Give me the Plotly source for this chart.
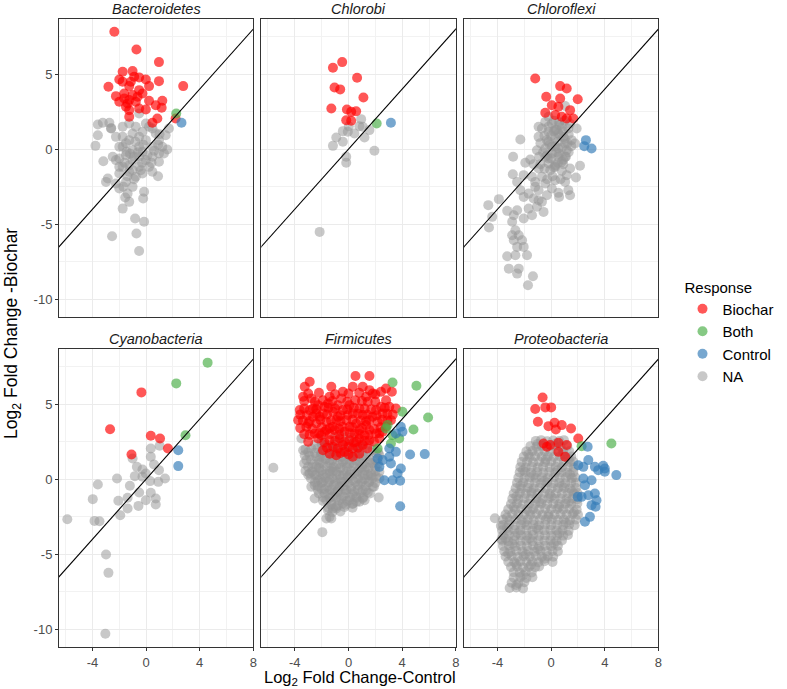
import plotly.graph_objects as go

# ---------------- data ----------------
PHYLA = ["Bacteroidetes", "Chlorobi", "Chloroflexi",
         "Cyanobacteria", "Firmicutes", "Proteobacteria"]
RESPONSES = ["Biochar", "Both", "Control", "NA"]
X_TICKS = [-4, 0, 4, 8]
X_TICK_TEXT = ["-4", "0", "4", "8"]
Y_TICKS = [-10, -5, 0, 5]
Y_TICK_TEXT = ["-10", "-5", "0", "5"]
ABLINE_X = [-8, 10]          # reference line y = x

BACT_BIOCHAR = [(-2.37,7.82),(-0.72,6.64),(0.96,5.8),(2.77,4.2),(-2.81,4.16),(-1.75,5.16),(-1.01,5.2),
    (-2.0,4.64),(-0.52,4.78),(-0.02,4.64),(0.96,4.53),(0.22,4.2),(-1.26,4.2),(-0.52,3.93),(-2.25,3.53),
    (-1.63,3.38),(-1.01,3.6),(-0.27,3.71),(-2.0,3.16),(-1.38,3.04),(-0.77,3.16),(0.22,3.22),(1.21,3.22),
    (0.72,2.93),(-1.26,2.6),(-0.52,2.71),(-0.02,2.64),(1.16,2.76),(-1.26,2.16),(0.84,2.04),(0.47,1.76),
    (2.2,2.04),(-1.75,4.49),(-1.14,4.49),(-0.89,4.82),(-1.63,3.71),(-0.64,3.49),(-1.26,3.27),(-1.5,2.82)]
BACT_BOTH = [(2.25,2.38)]
BACT_CONTROL = [(2.64,1.76)]
BACT_NA = [(-3.6,1.64),(-3.23,1.76),(-2.74,1.76),(-3.6,0.93),(-3.78,0.22),(-2.62,1.38),(-2.25,0.82),
    (-1.75,1.49),(-1.26,1.71),(-0.52,2.38),(-0.77,1.49),(-0.02,1.71),(0.47,1.38),(1.7,1.38),(1.46,0.93),
    (0.96,0.6),(1.21,0.16),(1.58,-0.02),(-1.75,0.82),(-1.26,0.6),(-0.52,0.82),(-0.02,0.6),(-1.75,0.16),
    (-1.01,-0.07),(-0.52,0.16),(0.47,0.16),(0.96,-0.29),(-2.49,-0.51),(-2.0,-0.62),(-1.5,-0.4),
    (-1.01,-0.73),(-0.52,-0.51),(-0.02,-0.73),(0.47,-0.51),(0.96,-0.84),(-3.19,-0.8),(-1.75,-1.18),
    (-1.26,-1.07),(-0.52,-1.18),(0.22,-1.18),(-2.0,-1.62),(-1.26,-1.51),(-0.77,-1.84),(0.47,-1.51),
    (0.89,-1.8),(-2.86,-1.96),(-2.99,-2.18),(-2.25,-2.29),(-1.5,-2.18),(-1.01,-2.51),(-2.0,-2.62),
    (-1.38,-2.96),(-0.15,-2.84),(-0.22,-3.29),(-1.56,-3.22),(-1.26,-3.51),(-1.75,-3.96),(-0.82,-4.62),
    (-0.15,-4.84),(-0.72,-5.62),(-2.54,-5.8),(-0.52,-6.78),(0.22,1.49),(0.72,1.04),(-0.27,1.16),
    (-1.01,1.04),(-2.0,0.16),(-2.25,-0.73),(-0.27,-0.18),(-1.45,-0.18),(-2.0,-1.18),(-0.27,-1.62),
    (1.33,-0.29),(-1.5,0.4),(-0.8,0.5),(-0.2,0.3),(0.6,-0.1),(-1.2,-0.3),(-0.6,-0.2),(0.1,-0.4),
    (-1.6,-0.9),(-0.9,-0.5),(-0.3,-0.9),(0.4,-0.9),(-1.0,-1.4),(-0.4,-1.4),(-1.4,-1.8),(-0.9,-2.0),
    (-1.7,-2.5),(0.9,0.3),(1.0,1.0),(-2.6,1.4)]

CHLB_BIOCHAR = [(-1.16,5.42),(-0.47,5.8),(0.64,4.76),(-1.04,4.11),(-0.62,3.98),(1.11,3.44),(-1.28,2.71),
    (-0.12,2.64),(0.2,2.49),(0.57,2.53),(-0.17,1.93),(0.2,1.89)]
CHLB_BOTH = [(2.1,1.71)]
CHLB_CONTROL = [(3.16,1.76)]
CHLB_NA = [(0.94,2.0),(0.02,1.53),(-0.42,1.2),(0.81,1.53),(1.56,1.27),(0.44,1.04),(-0.91,0.78),
    (-0.42,0.49),(-1.16,0.22),(1.19,0.78),(1.93,-0.11),(-0.17,-0.51),(-0.17,-0.91),(-2.15,-5.51),
    (1.06,1.49),(-0.05,1.16)]

CHLF_BIOCHAR = [(-1.19,4.71),(0.67,4.2),(1.16,4.04),(-0.37,3.49),(0.67,3.38),(1.98,3.33),(0.05,2.93),
    (-0.44,2.42),(0.3,2.27),(0.79,2.16),(1.41,2.6),(1.65,2.04),(1.16,2.04),(0.54,2.82)]
CHLF_BOTH = []
CHLF_CONTROL = [(2.59,0.6),(2.47,0.2),(3.01,0.04)]
CHLF_NA = [(1.04,2.87),(-0.44,1.82),(0.05,1.71),(-0.69,1.38),(-0.2,1.16),(0.3,1.27),(0.79,1.49),
    (1.28,1.38),(1.9,1.38),(-2.3,0.64),(-0.94,0.82),(-0.32,0.6),(0.3,0.71),(0.91,0.82),(1.53,0.6),
    (1.78,0.38),(-1.06,-0.07),(-0.44,0.04),(0.05,0.16),(0.54,0.04),(1.16,-0.07),(0.05,-0.29),
    (-0.44,-0.51),(0.54,-0.51),(1.04,-0.51),(-2.84,-0.51),(-1.56,-0.69),(-1.93,-0.91),(-1.31,-1.0),
    (-0.2,-0.96),(0.3,-1.07),(0.79,-0.84),(2.15,-1.11),(-0.94,-1.29),(-0.07,-1.4),(0.79,-1.44),
    (1.41,-1.29),(-2.86,-1.67),(-2.05,-1.73),(-1.43,-1.84),(-0.69,-1.84),(1.16,-1.73),(1.85,-1.89),
    (-2.54,-2.18),(-1.19,-2.18),(-0.44,-2.29),(0.3,-2.07),(1.04,-2.18),(-2.3,-2.73),(-1.68,-2.96),
    (-0.94,-2.73),(0.05,-2.62),(0.54,-2.91),(1.28,-2.73),(1.41,-3.07),(-3.9,-3.33),(-2.05,-3.18),
    (-1.31,-3.29),(-0.69,-3.51),(-0.32,-3.07),(0.59,-3.18),(-4.69,-3.73),(-3.28,-4.11),(-2.54,-4.07),
    (-1.68,-3.96),(-1.06,-3.84),(-0.57,-4.18),(-4.4,-4.51),(-4.64,-5.22),(-2.79,-4.4),(-2.05,-4.62),
    (-1.43,-4.4),(-2.91,-4.84),(-2.67,-5.4),(-2.42,-5.73),(-2.79,-6.07),(-2.54,-6.51),(-2.05,-6.51),
    (-3.28,-7.13),(-2.67,-7.07),(-1.8,-7.07),(-3.16,-7.96),(-2.42,-7.96),(-2.54,-8.29),(-1.36,-8.47),
    (-1.73,-9.07),(-0.2,2.16),(-0.94,1.49),(0.54,1.04),(1.04,0.38),(-0.2,-0.62),(0.3,-1.18),
    (-1.19,-2.51),(-0.94,-3.4),(-2.91,-5.73),(-2.17,-6.07),
    (0.2,1.9),(0.6,1.8),(1.0,1.9),(1.4,1.7),(-0.2,1.5),(0.4,1.3),(0.9,1.2),(1.3,1.0),(-0.5,0.9),
    (0.0,0.9),(0.5,0.5),(1.0,0.7),(1.5,0.2),(-0.8,0.4),(-0.2,0.5),(0.3,0.2),(0.8,0.1),(1.3,-0.2),
    (-0.6,-0.2),(0.0,-0.6),(0.6,-0.3),(1.1,-0.5),(-0.9,-0.5),(0.5,-0.9),(-0.5,-1.3),(0.9,-1.0),
    (0.1,-1.8),(0.7,-2.0),(-0.3,-2.0),(0.2,1.2),(0.7,0.9),(-0.1,0.3),(0.4,-0.2),(0.9,-0.7),
    (-0.3,-0.4),(0.2,-1.2),(-0.8,-1.0),(1.2,0.4),(0.6,1.6)]

CYAN_BIOCHAR = [(-0.35,5.78),(-2.69,3.33),(0.35,2.89),(1.04,2.71),(1.63,2.04),(-1.09,1.64)]
CYAN_BOTH = [(4.59,7.76),(2.25,6.38),(2.94,2.93)]
CYAN_CONTROL = [(2.4,1.93),(2.4,0.87)]
CYAN_NA = [(0.35,2.04),(1.01,2.22),(-1.01,1.38),(0.35,1.49),(0.59,0.98),(-0.69,0.82),(-0.27,0.64),
    (0.96,0.6),(-0.02,0.38),(-0.84,0.2),(-0.27,0.16),(-2.17,0.04),(1.41,0.04),(0.3,-0.13),(0.91,-0.18),
    (-3.6,-0.36),(-1.21,-0.44),(-0.52,-0.89),(0.35,-0.91),(-3.98,-1.33),(-2.07,-1.44),(-1.38,-1.24),
    (-0.02,-1.4),(0.72,-1.29),(0.72,-1.69),(-0.57,-1.78),(-1.38,-1.96),(-1.93,-2.4),(-5.88,-2.67),
    (-3.85,-2.78),(-3.48,-2.8),(-2.99,-5.02),(-2.81,-6.24),(-3.04,-10.3)]

FIRM_BIOCHAR = [(0.52,6.87),(1.56,6.87),(-2.89,6.49),(-1.28,6.16),(0.32,6.16),(1.06,6.16),(-3.26,6.16),
    (-3.38,5.49),(-2.77,5.38),(-0.42,5.82),(1.56,5.93),(2.42,5.82),(2.79,6.04),(3.23,5.82),(-0.54,5.38),
    (1.31,5.49),(1.8,5.71),(-3.63,4.6),(-2.89,4.6),(-2.27,4.93),(-1.53,5.04),(-0.79,4.93),(0.07,4.93),
    (0.81,4.71),(1.43,5.16),(2.42,4.82),(3.04,4.82),(3.53,4.71),(-3.75,3.93),(-2.64,4.16),(-1.9,4.38),
    (-1.16,4.49),(-0.42,4.6),(0.32,4.38),(1.06,4.27),(1.8,4.16),(2.54,4.38),(3.16,3.93),(-3.14,3.49),
    (-2.4,3.71),(-1.65,3.82),(-0.91,3.93),(-0.17,3.93),(0.57,3.71),(1.31,3.6),(2.17,3.82),(2.79,3.49),
    (-2.52,3.04),(-1.78,3.16),(-1.04,3.27),(-0.3,3.16),(0.44,3.04),(1.19,2.93),(2.05,3.04),(-2.27,2.71),
    (-1.41,2.6),(-0.67,2.71),(0.07,2.6),(0.81,2.71),(1.56,2.6),(2.3,2.71),(-1.16,2.16),(-0.42,2.27),
    (0.32,2.04),(1.06,2.27),(-0.91,1.6),(0.32,1.49),(-0.3,1.82),(-1.9,1.93),(-3.01,3.71),(-1.41,5.49),
    (-2.15,4.16),(0.81,3.27),(1.56,3.27),(-1.16,3.49),(-0.42,3.49),(0.07,3.49),(-1.65,3.27),(-2.64,4.71),
    (-1.78,4.82),(2.05,4.6),(-0.79,4.16),(-0.05,4.27),(1.56,3.93),(-2.03,2.93),(2.54,3.16),(0.57,2.49),
    (-3.0,5.7),(-2.2,5.75),(-1.0,5.65),(0.0,5.7),(0.8,5.75),(2.0,5.65),
    (-3.3,5.2),(-2.5,5.15),(-1.9,5.25),(-1.2,5.2),(-0.1,5.15),(0.5,5.25),(1.0,5.2),(2.0,5.15),(2.8,5.25),
    (-3.3,4.7),(-2.4,4.65),(-1.5,4.75),(-1.0,4.7),(-0.1,4.65),(0.4,4.75),(1.2,4.7),(1.7,4.65),(2.7,4.75),
    (-3.6,4.3),(-3.1,4.25),(-2.4,4.35),(-1.6,4.3),(-0.6,4.25),(0.7,4.35),(1.4,4.3),(2.1,4.25),(2.9,4.35),
    (3.3,4.3),(-3.4,3.9),(-2.9,3.85),(-2.1,3.95),(-1.3,3.9),(-0.6,3.85),(0.3,3.95),(0.9,3.9),(1.3,3.85),
    (2.5,3.95),(2.9,3.9),(-3.6,3.4),(-2.7,3.35),(-2.0,3.45),(-1.4,3.4),(-0.7,3.35),(0.3,3.45),(1.0,3.4),
    (1.9,3.35),(2.4,3.45),(-3.3,3.0),(-2.9,2.95),(-2.2,3.05),(-1.4,3.0),(-0.7,2.95),(0.1,3.05),(0.8,3.0),
    (1.5,2.95),(2.3,3.05),(-3.0,2.5),(-1.8,2.45),(-1.0,2.55),(-0.3,2.5),(0.4,2.45),(1.2,2.55),(1.9,2.5),
    (-1.6,2.1),(-0.8,2.05),(0.0,2.15),(0.7,2.1),(1.4,2.05),(-1.4,1.7),(-0.6,1.75),(0.0,1.65),(0.8,1.7)]
FIRM_BOTH = [(3.28,6.44),(5.06,6.22),(4.02,4.49),(5.93,4.11),(4.84,3.31),(2.79,3.38),(3.28,2.93),
    (3.78,2.71),(3.16,2.38),(2.17,2.04),(2.91,3.6)]
FIRM_CONTROL = [(3.9,3.49),(4.02,3.16),(3.53,3.04),(3.04,2.04),(3.53,1.82),(3.04,1.49),(4.59,1.64),
    (5.68,1.67),(2.54,1.27),(2.3,0.82),(3.9,0.71),(3.65,0.38),(3.28,-0.07),(2.67,-0.07),(3.85,-0.11),
    (3.85,-1.8),(3.16,1.04),(2.17,1.38)]
FIRM_NA = [(-5.6,0.76),(-3.51,2.71),(-3.38,1.93),(-3.26,1.6),(-3.01,0.82),(-2.52,0.27),(-2.52,-0.4),
    (-2.52,-1.29),(-2.03,-0.62),(-1.65,-1.4),(-1.16,-1.96),(-1.41,-2.51),(-1.65,-2.62),(-1.95,-3.53),
    (-0.91,-1.84),(0.07,-1.4),(0.81,-1.51),(1.43,-0.89),(2.25,-1.22),(-2.77,2.04),(-2.4,1.49),(-1.78,2.27),
    (-1.41,1.71),(-1.04,2.04),(-0.67,1.71),(-0.17,1.82),(0.44,1.71),(1.06,1.6),(1.56,1.82),(1.8,1.04),
    (2.05,1.71),(-1.9,1.04),(-1.41,1.27),(-0.91,0.93),(-0.42,1.16),(0.07,1.04),(0.81,1.16),(1.31,0.82),
    (-2.15,0.49),(-1.65,0.38),(-1.16,0.49),(-0.67,0.27),(-0.17,0.49),(0.44,0.38),(1.06,0.27),(1.68,0.38),
    (-1.9,-0.18),(-1.41,-0.07),(-0.91,-0.29),(-0.3,-0.18),(0.32,-0.07),(0.89,-0.29),(1.56,-0.18),
    (2.05,0.16),(-1.41,-0.73),(-0.79,-0.84),(-0.17,-0.73),(0.44,-0.84),(1.06,-0.73),(-1.78,-0.96),
    (-0.54,-1.29),(-1.16,-1.18),(0.57,-1.18),(-0.42,-1.62),(0.32,-1.62),(-1.28,-2.62),(-3.14,1.27),
    (-2.89,0.38),(-2.27,-0.07),(-0.79,1.49),(0.19,1.49),(0.81,0.71),(-0.05,0.16),(-0.67,-0.51),
    (-1.28,0.71),(-2.4,0.82),(-2.03,1.71),(1.43,0.27),(1.06,-1.29),(1.8,-0.51),(2.3,0.49),(-2.77,-0.51),
    (-1.53,-2.07),
    (-2.5,2.3),(-2.0,2.35),(-1.5,2.25),(-1.0,2.3),(-0.5,2.4),(0.0,2.3),(0.5,2.25),(1.0,2.35),(1.5,2.3),
    (-3.0,1.8),(-2.5,1.75),(-2.0,1.85),(-1.0,1.8),(0.0,1.75),(1.0,1.85),(2.2,1.8),
    (-2.8,1.3),(-2.2,1.25),(-1.7,1.35),(-1.2,1.3),(-0.3,1.3),(0.5,1.25),(1.0,1.35),(1.6,1.3),(2.0,1.25),
    (-2.7,0.8),(-2.2,0.75),(-1.6,0.85),(-1.1,0.8),(-0.6,0.75),(-0.1,0.8),(0.4,0.85),(1.0,0.8),(1.5,0.75),
    (2.0,0.8),(-3.0,0.3),(-2.4,0.25),(-1.9,0.3),(-1.4,0.35),(-0.9,0.3),(-0.4,0.25),(0.1,0.3),(0.6,0.35),
    (1.2,0.3),(1.7,0.25),(-2.5,-0.2),(-2.0,-0.25),(-1.5,-0.2),(-1.0,-0.15),(-0.5,-0.2),(0.0,-0.25),
    (0.5,-0.2),(1.0,-0.15),(1.5,-0.2),(2.0,-0.25),(-2.3,-0.7),(-1.8,-0.65),(-1.3,-0.7),(-0.8,-0.75),
    (-0.3,-0.7),(0.2,-0.65),(0.7,-0.7),(1.3,-0.75),(-1.9,-1.2),(-1.4,-1.25),(-0.9,-1.2),(-0.4,-1.15),
    (0.1,-1.2),(0.6,-1.25),(1.1,-1.2),(-1.3,-1.7),(-0.8,-1.75),(-0.2,-1.7),(0.3,-1.65),(-1.2,-2.2),
    (-0.6,-2.15),
    (-3.2,2.0),(-2.3,2.05),(-1.3,1.95),(-0.3,2.0),(0.7,2.05),(1.8,1.95),
    (-2.9,1.55),(-2.1,1.5),(-1.6,1.6),(-1.1,1.55),(-0.5,1.5),(0.1,1.6),(0.7,1.55),(1.3,1.5),(2.3,1.6),
    (-3.3,1.05),(-2.6,1.0),(-2.1,1.1),(-1.4,1.05),(-0.7,1.0),(-0.2,1.1),(0.4,1.05),(1.1,1.0),(1.6,1.1),
    (2.2,1.05),(-3.2,0.55),(-2.7,0.5),(-2.0,0.6),(-1.4,0.55),(-0.9,0.5),(-0.4,0.6),(0.2,0.55),(0.7,0.5),
    (1.2,0.6),(2.0,0.55),(-2.8,0.05),(-2.1,0.0),(-1.7,0.1),(-1.2,0.05),(-0.6,0.0),(0.0,0.1),(0.7,0.05),
    (1.2,0.0),(1.8,0.1),(2.3,0.05),(-2.3,-0.45),(-1.6,-0.5),(-1.1,-0.4),(-0.4,-0.45),(0.2,-0.5),
    (0.7,-0.4),(1.3,-0.45),(1.9,-0.5),(-2.2,-0.95),(-1.5,-1.0),(-1.0,-0.9),(-0.2,-0.95),(0.3,-1.0),
    (0.9,-0.9),(1.6,-0.95),(-1.9,-1.45),(-1.3,-1.5),(-0.7,-1.4),(-0.1,-1.45),(0.6,-1.5),(1.2,-1.4),
    (-1.5,-1.9),(-0.9,-1.95),(-0.3,-1.85),(0.3,-1.9),
    (-1.0,2.8),(-0.4,2.9),(0.2,2.75),(-2.0,2.6),(0.9,2.2)]

PROT_BIOCHAR = [(-0.64,5.44),(-1.19,4.67),(-0.44,4.78),(0.0,4.78),(-0.99,3.82),(-0.2,3.53),(0.25,3.76),
    (0.79,3.6),(1.48,3.38),(0.35,3.31),(-0.57,2.38),(-0.07,2.27),(0.54,2.42),(1.16,2.27),(2.02,2.71),
    (-0.32,2.16),(0.54,1.82),(1.04,1.49)]
PROT_BOTH = [(4.49,2.38),(2.27,2.2)]
PROT_CONTROL = [(2.72,2.16),(2.02,0.93),(2.4,0.82),(3.26,0.82),(3.88,0.89),(4.0,0.49),(3.51,0.6),
    (4.86,0.27),(2.4,0.04),(3.01,-0.07),(2.52,-0.4),(2.77,-1.07),(3.26,-0.96),(2.27,-1.18),(3.38,-1.4),
    (3.01,-1.73),(3.31,-1.84),(2.89,-2.51),(2.52,-2.84),(1.98,-1.18),(2.77,1.27),(4.0,0.71)]
PROT_NA = [
    (-1.15,2.55),(-0.75,2.6),(-0.3,2.52),(0.15,2.58),(0.6,2.54),(0.95,2.6),
    (-1.55,2.2),(-1.1,2.16),(-0.7,2.23),(-0.2,2.18),(0.25,2.22),(0.7,2.17),(1.2,2.21),
    (-1.85,1.85),(-1.4,1.88),(-0.95,1.82),(-0.5,1.87),(-0.05,1.83),(0.45,1.88),(0.9,1.84),(1.35,1.86),
    (-2.05,1.5),(-1.6,1.47),(-1.2,1.53),(-0.7,1.49),(-0.25,1.52),(0.2,1.48),(0.65,1.53),(1.1,1.47),(1.5,1.51),
    (-2.2,1.15),(-1.8,1.18),(-1.35,1.12),(-0.9,1.17),(-0.45,1.13),(0.0,1.18),(0.5,1.12),(0.95,1.16),
    (1.4,1.13),(1.65,1.17),
    (-2.3,0.8),(-1.9,0.77),(-1.45,0.83),(-1.0,0.78),(-0.6,0.82),(-0.1,0.77),(0.35,0.83),(0.8,0.79),
    (1.25,0.82),(1.7,0.78),
    (-2.35,0.45),(-1.95,0.48),(-1.5,0.42),(-1.05,0.47),(-0.6,0.43),(-0.15,0.48),(0.3,0.42),(0.75,0.46),
    (1.2,0.43),(1.65,0.47),
    (-2.45,0.1),(-2.0,0.07),(-1.6,0.13),(-1.15,0.08),(-0.7,0.12),(-0.25,0.07),(0.2,0.13),(0.65,0.08),
    (1.1,0.12),(1.55,0.07),(1.8,0.12),
    (-2.55,-0.25),(-2.1,-0.22),(-1.65,-0.28),(-1.2,-0.23),(-0.75,-0.27),(-0.3,-0.22),(0.15,-0.28),
    (0.6,-0.24),(1.05,-0.27),(1.5,-0.23),(1.85,-0.26),
    (-2.65,-0.6),(-2.2,-0.63),(-1.75,-0.57),(-1.3,-0.62),(-0.85,-0.58),(-0.4,-0.63),(0.05,-0.57),
    (0.5,-0.61),(0.95,-0.58),(1.4,-0.62),(1.85,-0.59),
    (-2.8,-0.95),(-2.35,-0.92),(-1.9,-0.98),(-1.45,-0.93),(-1.0,-0.97),(-0.55,-0.92),(-0.1,-0.98),
    (0.35,-0.94),(0.8,-0.97),(1.25,-0.93),(1.7,-0.96),(1.95,-0.92),
    (-2.9,-1.3),(-2.45,-1.33),(-2.0,-1.27),(-1.55,-1.32),(-1.1,-1.28),(-0.65,-1.33),(-0.2,-1.27),
    (0.25,-1.31),(0.7,-1.28),(1.15,-1.32),(1.6,-1.29),(1.95,-1.33),
    (-3.0,-1.65),(-2.55,-1.62),(-2.1,-1.68),(-1.65,-1.63),(-1.2,-1.67),(-0.75,-1.62),(-0.3,-1.68),
    (0.15,-1.64),(0.6,-1.67),(1.05,-1.63),(1.5,-1.66),(1.95,-1.62),
    (-3.2,-2.0),(-2.7,-2.03),(-2.25,-1.97),(-1.8,-2.02),(-1.35,-1.98),(-0.9,-2.03),(-0.45,-1.97),
    (0.0,-2.01),(0.45,-1.98),(0.9,-2.02),(1.35,-1.99),(1.9,-2.03),
    (-3.4,-2.35),(-2.9,-2.32),(-2.45,-2.38),(-2.0,-2.33),(-1.55,-2.37),(-1.1,-2.32),(-0.65,-2.38),
    (-0.2,-2.34),(0.25,-2.37),(0.7,-2.33),(1.15,-2.36),(1.6,-2.32),(2.0,-2.37),
    (-3.6,-2.7),(-3.1,-2.73),(-2.65,-2.67),(-2.2,-2.72),(-1.75,-2.68),(-1.3,-2.73),(-0.85,-2.67),
    (-0.4,-2.71),(0.05,-2.68),(0.5,-2.72),(0.95,-2.69),(1.4,-2.73),(1.85,-2.68),
    (-3.6,-3.05),(-3.15,-3.02),(-2.7,-3.08),(-2.25,-3.03),(-1.8,-3.07),(-1.35,-3.02),(-0.9,-3.08),
    (-0.45,-3.04),(0.0,-3.07),(0.45,-3.03),(0.9,-3.06),(1.35,-3.02),(1.75,-3.07),
    (-3.65,-3.4),(-3.2,-3.43),(-2.75,-3.37),(-2.3,-3.42),(-1.85,-3.38),(-1.4,-3.43),(-0.95,-3.37),
    (-0.5,-3.41),(-0.05,-3.38),(0.4,-3.42),(0.85,-3.39),(1.3,-3.43),
    (-3.6,-3.75),(-3.15,-3.72),(-2.7,-3.78),(-2.25,-3.73),(-1.8,-3.77),(-1.35,-3.72),(-0.9,-3.78),
    (-0.45,-3.74),(0.0,-3.77),(0.45,-3.73),(0.9,-3.76),(1.25,-3.72),
    (-3.65,-4.1),(-3.2,-4.13),(-2.75,-4.07),(-2.3,-4.12),(-1.85,-4.08),(-1.4,-4.13),(-0.95,-4.07),
    (-0.5,-4.11),(-0.05,-4.08),(0.4,-4.12),(0.8,-4.09),
    (-3.6,-4.45),(-3.15,-4.42),(-2.7,-4.48),(-2.25,-4.43),(-1.8,-4.47),(-1.35,-4.42),(-0.9,-4.48),
    (-0.45,-4.44),(0.0,-4.47),(0.5,-4.43),
    (-3.5,-4.8),(-3.05,-4.83),(-2.6,-4.77),(-2.15,-4.82),(-1.7,-4.78),(-1.25,-4.83),(-0.8,-4.77),
    (-0.35,-4.81),(0.1,-4.78),(0.5,-4.82),
    (-3.4,-5.15),(-2.95,-5.12),(-2.5,-5.18),(-2.05,-5.13),(-1.6,-5.17),(-1.15,-5.12),(-0.7,-5.18),
    (-0.25,-5.14),(0.15,-5.17),
    (-3.2,-5.5),(-2.75,-5.53),(-2.3,-5.47),(-1.85,-5.52),(-1.4,-5.48),(-0.95,-5.53),(-0.5,-5.47),(0.1,-5.51),
    (-3.0,-5.85),(-2.55,-5.82),(-2.1,-5.88),(-1.65,-5.83),(-1.2,-5.87),(-0.9,-5.82),
    (-2.8,-6.2),(-2.35,-6.23),(-1.9,-6.17),(-1.45,-6.22),
    (-2.8,-6.55),(-2.3,-6.52),(-1.85,-6.58),(-1.4,-6.53),
    (-2.95,-6.9),(-2.45,-6.93),(-2.0,-6.87),
    (-3.1,-7.25),(-2.6,-7.22),(-2.1,-7.28),
    (-4.2,-2.6),(-3.75,-3.1),(-3.7,-4.0),
    (-1.0,2.35),(0.4,2.4),(-1.7,1.65),(0.9,1.65),(-0.4,1.3),(1.3,1.35),(-2.1,0.6),(0.5,0.6),
    (-1.3,0.25),(1.4,0.3),(-0.5,-0.1),(-2.3,-0.45),(0.8,-0.45),(-1.5,-0.8),(1.55,-0.8),(-2.6,-1.15),
    (0.0,-1.15),(-0.9,-1.5),(1.3,-1.5),(-2.8,-1.85),(0.6,-1.85),(-1.6,-2.15),(1.7,-2.2),(-3.3,-2.55),
    (-0.2,-2.5),(-2.0,-2.9),(1.1,-2.9),(-3.3,-3.25),(-1.1,-3.25),(0.6,-3.6),(-2.5,-3.6),(-3.4,-3.95),
    (-1.6,-3.95),(0.2,-4.3),(-2.9,-4.3),(-1.0,-4.65),(-3.2,-4.95),(-1.9,-5.0),(-0.5,-5.3),(-2.6,-5.65),
    (-1.5,-5.7),(-2.1,-6.4),(-2.6,-7.05)]

SERIES = {
    "Bacteroidetes": [BACT_BIOCHAR, BACT_BOTH, BACT_CONTROL, BACT_NA],
    "Chlorobi": [CHLB_BIOCHAR, CHLB_BOTH, CHLB_CONTROL, CHLB_NA],
    "Chloroflexi": [CHLF_BIOCHAR, CHLF_BOTH, CHLF_CONTROL, CHLF_NA],
    "Cyanobacteria": [CYAN_BIOCHAR, CYAN_BOTH, CYAN_CONTROL, CYAN_NA],
    "Firmicutes": [FIRM_BIOCHAR, FIRM_BOTH, FIRM_CONTROL, FIRM_NA],
    "Proteobacteria": [PROT_BIOCHAR, PROT_BOTH, PROT_CONTROL, PROT_NA],
}

# ---------------- styles / layout ----------------
COLORS = {"Biochar": "rgba(255,0,0,0.66)", "Both": "rgba(77,175,74,0.68)",
          "Control": "rgba(55,126,184,0.68)", "NA": "rgba(150,150,150,0.52)"}
DRAW_ORDER = ["NA", "Biochar", "Both", "Control"]
FONT = "Liberation Sans, Arial, Helvetica, sans-serif"
W, H = 787, 689
X_RANGE = [-6.5, 8.0]
Y_RANGE = [-11.18, 8.67]
COL_PX = [(59.3, 254.6), (262.6, 458.2), (466.4, 661.8)]
ROW_PX = [(19, 317), (349, 647)]

fig = go.Figure()
for i, phylum in enumerate(PHYLA):
    r, c = divmod(i, 3)
    ax = "" if i == 0 else str(i + 1)
    sets = dict(zip(RESPONSES, SERIES[phylum]))
    for resp in DRAW_ORDER:
        pts = sets[resp]
        fig.add_trace(go.Scatter(
            x=[p[0] for p in pts], y=[p[1] for p in pts], mode="markers",
            marker=dict(size=10, color=COLORS[resp], line=dict(width=0)),
            name=resp, legendgroup=resp, showlegend=(i == 0),
            legendrank=RESPONSES.index(resp) + 1,
            xaxis="x" + ax, yaxis="y" + ax, hoverinfo="skip"))
    fig.add_trace(go.Scatter(x=ABLINE_X, y=ABLINE_X, mode="lines",
                             line=dict(color="black", width=1.1), showlegend=False,
                             xaxis="x" + ax, yaxis="y" + ax, hoverinfo="skip"))
    x0, x1 = COL_PX[c]
    yt, yb = ROW_PX[r]
    common = dict(showline=True, mirror=True, linecolor="#333333", linewidth=1,
                  zeroline=False, showgrid=True, gridcolor="#ebebeb", gridwidth=1,
                  tickfont=dict(family=FONT, size=13, color="#4d4d4d"),
                  ticklen=3, tickwidth=1, tickcolor="#333333")
    fig.layout["xaxis" + ax] = dict(
        common, domain=[x0 / W, x1 / W], range=X_RANGE, anchor="y" + ax,
        tickmode="array", tickvals=X_TICKS, ticktext=X_TICK_TEXT,
        showticklabels=(r == 1), ticks="outside" if r == 1 else "",
        minor=dict(tickmode="array", tickvals=[-6, -2, 2, 6], showgrid=True,
                   gridcolor="#f2f2f2", gridwidth=1, ticks=""))
    fig.layout["yaxis" + ax] = dict(
        common, domain=[1 - yb / H, 1 - yt / H], range=Y_RANGE, anchor="x" + ax,
        tickmode="array", tickvals=Y_TICKS, ticktext=Y_TICK_TEXT,
        showticklabels=(c == 0), ticks="outside" if c == 0 else "",
        minor=dict(tickmode="array", tickvals=[-7.5, -2.5, 2.5, 7.5], showgrid=True,
                   gridcolor="#f2f2f2", gridwidth=1, ticks=""))
    fig.add_annotation(text=phylum, xref="paper", yref="paper",
                       x=(x0 + x1) / 2 / W, y=1 - (yt - 10) / H,
                       showarrow=False, xanchor="center", yanchor="middle",
                       font=dict(family=FONT, size=14.5, color="#1a1a1a", style="italic"))

fig.add_annotation(text="Log<sub>2</sub> Fold Change-Control", xref="paper", yref="paper",
                   x=362 / W, y=1 - 678 / H, showarrow=False, xanchor="center", yanchor="middle",
                   font=dict(family=FONT, size=16.5, color="black"))
fig.add_annotation(text="Log<sub>2</sub> Fold Change -Biochar", xref="paper", yref="paper",
                   x=12 / W, y=1 - 333 / H, showarrow=False, textangle=-90,
                   xanchor="center", yanchor="middle",
                   font=dict(family=FONT, size=17.5, color="black"))

fig.update_layout(
    width=W, height=H, margin=dict(l=0, r=0, t=0, b=0),
    paper_bgcolor="white", plot_bgcolor="white",
    font=dict(family=FONT),
    legend=dict(x=686 / W, y=1 - 273 / H, xanchor="left", yanchor="top",
                title=dict(text="Response", font=dict(family=FONT, size=15, color="black")),
                font=dict(family=FONT, size=15, color="black"),
                bgcolor="rgba(0,0,0,0)", tracegroupgap=0, itemwidth=30),
)
fig.write_html("out.html", config={"displayModeBar": False},
               post_script="document.body.style.margin='0px';document.body.style.overflow='hidden';")
